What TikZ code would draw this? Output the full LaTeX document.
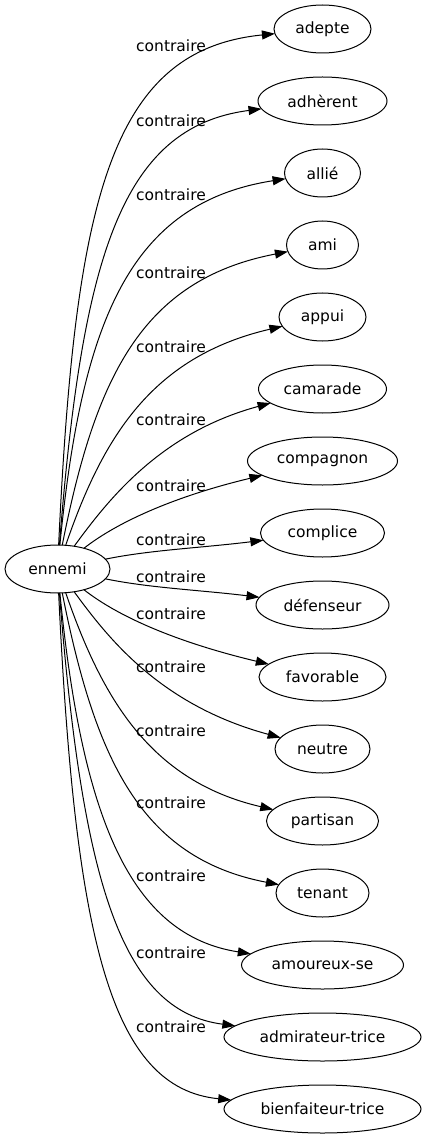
\documentclass[tikz,border=0pt]{standalone}
\usepackage{fontspec}
\setsansfont{DejaVu Sans}
\usetikzlibrary{positioning, arrows.meta, shapes.geometric}

\begin{document}
\begin{tikzpicture}[
    x=1pt, y=-1pt,
    % Node styles
    word/.style={
        ellipse,
        draw=black,
        line width=1pt,
        inner sep=0pt,
        outer sep=0pt,
        minimum height=48pt,
        minimum width=#1,
        font=\sffamily\fontsize{15.5}{18}\selectfont
    },
    rel/.style={
        font=\sffamily\fontsize{15.5}{18}\selectfont,
        inner sep=0pt
    },
    edge/.style={
        ->,
        >={Triangle[length=13pt, width=9pt]},
        line width=1pt,
        draw=black
    }
]
    \useasboundingbox (0,0) rectangle (426,1139);

    % ==== SOURCE ====
    \node[word=105pt] (ennemi) at (57.5,569) {ennemi};

    % ==== TARGETS ====
    \node[word=97pt] (adepte) at (322.5,29) {adepte};
    \node[word=129pt, below=24pt of adepte] (adherent) {adhèrent};
    \node[word=76pt, below=24pt of adherent] (allie) {allié};
    \node[word=72pt, below=24pt of allie] (ami) {ami};
    \node[word=87pt, below=24pt of ami] (appui) {appui};
    \node[word=128pt, below=24pt of appui] (camarade) {camarade};
    \node[word=150pt, below=24pt of camarade] (compagnon) {compagnon};
    \node[word=124pt, below=24pt of compagnon] (complice) {complice};
    \node[word=133pt, below=24pt of complice] (defenseur) {défenseur};
    \node[word=127pt, below=24pt of defenseur] (favorable) {favorable};
    \node[word=95pt, below=24pt of favorable] (neutre) {neutre};
    \node[word=112pt, below=24pt of neutre] (partisan) {partisan};
    \node[word=93pt, below=24pt of partisan] (tenant) {tenant};
    \node[word=162pt, below=24pt of tenant] (amoureux) {amoureux-se};
    \node[word=197pt, below=24pt of amoureux] (admirateur) {admirateur-trice};
    \node[word=197pt, below=24pt of admirateur] (bienfaiteur) {bienfaiteur-trice};

    % ==== CONNECTIONS ====
    \draw[edge] (ennemi) .. controls (75,200) and (110,50) .. (adepte);
    \draw[edge] (ennemi) .. controls (82,260) and (120,127) .. (adherent);
    \draw[edge] (ennemi) .. controls (82,320) and (130,203) .. (allie);
    \draw[edge] (ennemi) .. controls (95,380) and (140,280) .. (ami);
    \draw[edge] (ennemi) .. controls (102,440) and (150,357) .. (appui);
    \draw[edge] (ennemi) .. controls (108,500) and (160,433) .. (camarade);
    \draw[edge] (ennemi) .. controls (120,520) and (180,495) .. (compagnon);
    \draw[edge] (ennemi) .. controls (150,550) and (200,548) .. (complice);
    \draw[edge] (ennemi) .. controls (150,588) and (200,590) .. (defenseur);
    \draw[edge] (ennemi) .. controls (120,618) and (180,643) .. (favorable);
    \draw[edge] (ennemi) .. controls (108,638) and (160,705) .. (neutre);
    \draw[edge] (ennemi) .. controls (102,698) and (150,781) .. (partisan);
    \draw[edge] (ennemi) .. controls (95,758) and (140,858) .. (tenant);
    \draw[edge] (ennemi) .. controls (82,818) and (130,935) .. (amoureux);
    \draw[edge] (ennemi) .. controls (82,878) and (120,1011) .. (admirateur);
    \draw[edge] (ennemi) .. controls (75,938) and (110,1088) .. (bienfaiteur);

    % ==== EDGE LABELS ====
    \node[rel] (l1) at (171,46) {contraire};
    \node[rel] (l2) at (171,121) {contraire};
    \node[rel] (l3) at (171,195) {contraire};
    \node[rel] (l4) at (171,273) {contraire};
    \node[rel] (l5) at (171,347) {contraire};
    \node[rel] (l6) at (171,420) {contraire};
    \node[rel] (l7) at (171,486) {contraire};
    \node[rel] (l8) at (171,540) {contraire};
    \node[rel] (l9) at (171,577) {contraire};
    \node[rel] (l10) at (171,614) {contraire};
    \node[rel] (l11) at (171,667) {contraire};
    \node[rel] (l12) at (171,731) {contraire};
    \node[rel] (l13) at (171,803) {contraire};
    \node[rel] (l14) at (171,876) {contraire};
    \node[rel] (l15) at (171,953) {contraire};
    \node[rel] (l16) at (171,1027) {contraire};

\end{tikzpicture}
\end{document}
